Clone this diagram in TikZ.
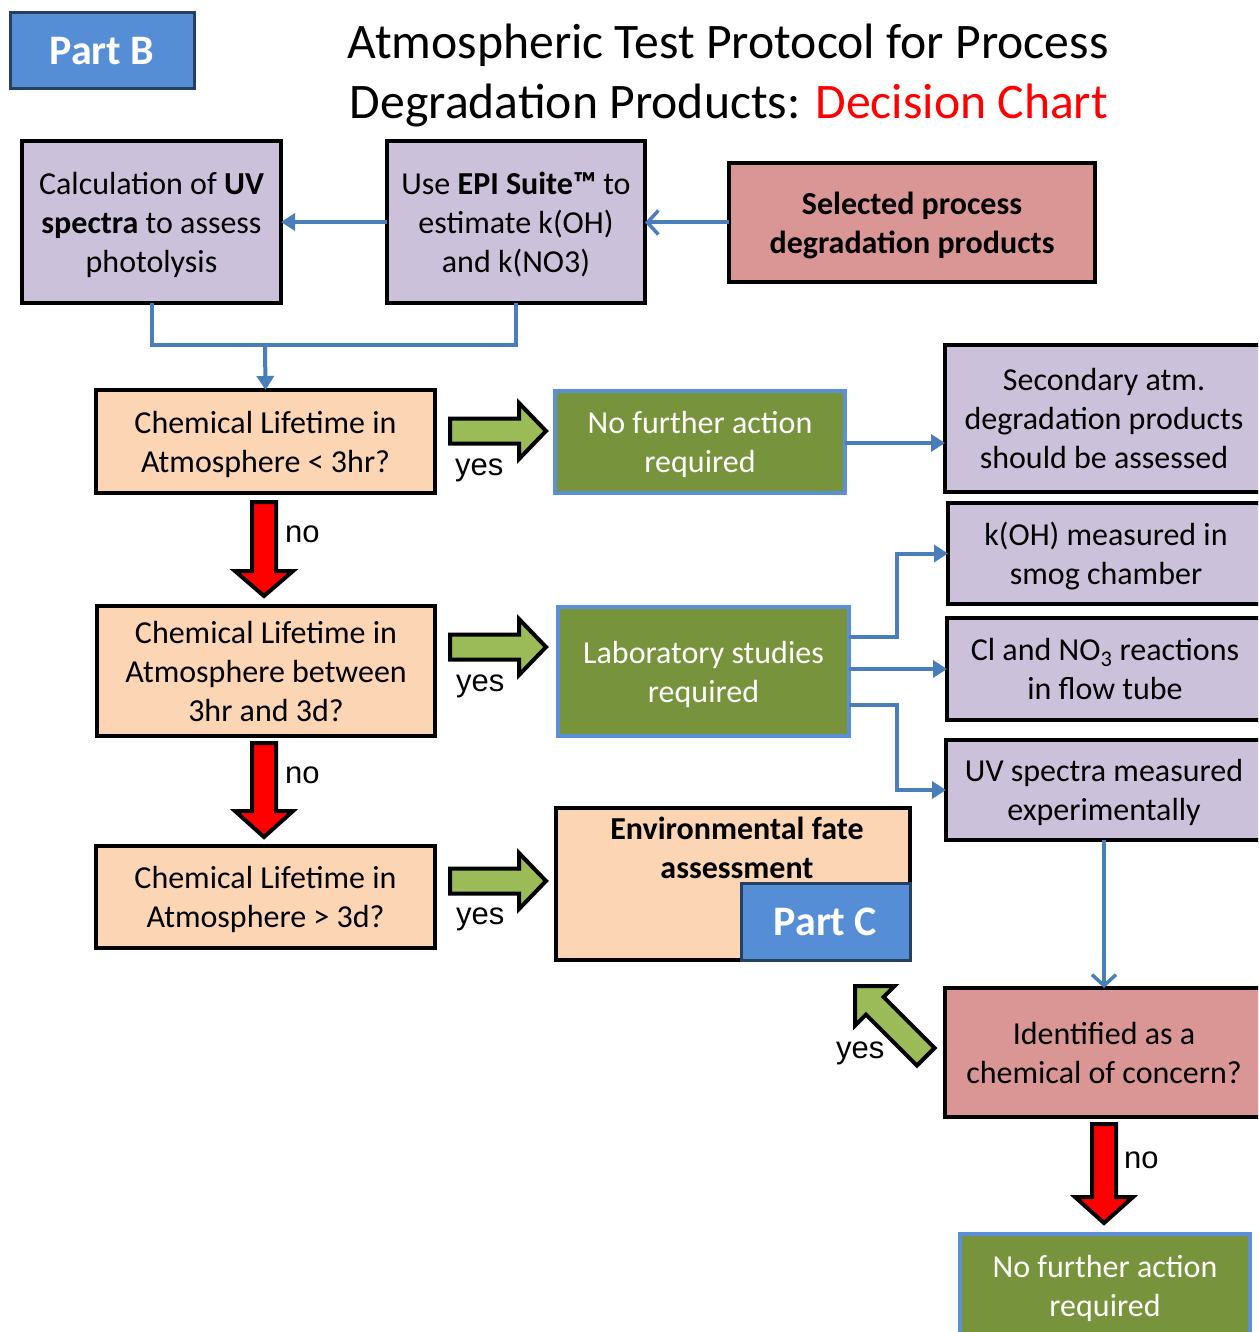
\documentclass[tikz,border=0pt]{standalone}
\usepackage{fontspec}
\setmainfont{Carlito}
\newfontfamily\arialf{Liberation Sans}
\usetikzlibrary{arrows.meta,calc}
\definecolor{lav}{HTML}{CCC1DA}
\definecolor{peach}{HTML}{FCD5B5}
\definecolor{pinkred}{HTML}{D99694}
\definecolor{olive}{HTML}{77933C}
\definecolor{lgreen}{HTML}{9BBB59}
\definecolor{partblue}{HTML}{558ED5}
\definecolor{navy}{HTML}{254061}
\definecolor{lineblue}{HTML}{4A7EBB}
\definecolor{boxblue}{HTML}{5B8FD6}
\newcommand\downblock[4]{%
  \draw[redblk] (#1-12,#2) -- (#1+12,#2) -- (#1+12,#3) -- (#1+29,#3) -- (#1,#4) -- (#1-29,#3) -- (#1-12,#3) -- cycle;}
\newcommand\rightblock[1]{%
  \draw[greenblk] (450,#1-12.5) -- (519,#1-12.5) -- (519,#1-28) -- (546,#1) -- (519,#1+28) -- (519,#1+12.5) -- (450,#1+12.5) -- cycle;}
\begin{document}
\begin{tikzpicture}[x=1pt,y=-1pt,
  txt/.style={font=\fontsize{32}{39}\selectfont, align=center, inner sep=0pt, outer sep=0pt},
  box/.style={txt, draw=black, line width=3.5pt, rectangle, text depth=0pt},
  lavbox/.style={box, fill=lav},
  peachbox/.style={box, fill=peach},
  pinkbox/.style={box, fill=pinkred},
  greenbox/.style={txt, draw=boxblue, line width=3.5pt, fill=olive, text=white, text depth=0pt},
  partbox/.style={draw=navy, line width=3pt, fill=partblue, text=white, inner sep=0pt, outer sep=0pt, font=\fontsize{42}{48}\selectfont\bfseries},
  conn/.style={draw=lineblue, line width=4pt},
  tri/.style={-{Triangle[length=14pt,width=17pt]}},
  chev/.style={-{Straight Barb[length=11pt,width=24pt,line width=3.5pt]}},
  redblk/.style={fill=red, draw=black, line width=4pt, line join=miter},
  greenblk/.style={fill=lgreen, draw=black, line width=4pt, line join=miter},
  lbl/.style={font=\arialf\fontsize{31}{36}\selectfont, inner sep=0pt, anchor=base west},
  ttl/.style={font=\fontsize{49.7}{60}\selectfont, inner sep=0pt, anchor=base}
]
\useasboundingbox (0,0) rectangle (1258,1332);
\clip (0,0) rectangle (1258,1332);
\fill[white] (0,0) rectangle (1258,1332);

% title
\node[partbox, minimum width=184pt, minimum height=76pt] (partb) at (102,51) {Part B};
\node[ttl] (title1) at (728,59) {Atmospheric Test Protocol for Process};
\node[ttl] (title2) at (729,119) {Degradation Products: \textcolor{red}{Decision Chart}};

% top row
\node[lavbox, minimum width=259pt, minimum height=162pt] (calc) at (151.5,222) {Calculation of \textbf{UV}\\\textbf{spectra} to assess\\photolysis};
\node[lavbox, minimum width=258pt, minimum height=162pt] (epi) at (516,222) {Use \textbf{EPI Suite™} to\\estimate k(OH)\\and k(NO3)};
\node[pinkbox, minimum width=366pt, minimum height=119pt] (sel) at (912,222.5) {\textbf{Selected process}\\\textbf{degradation products}};

\draw[conn, chev] (sel.west) -- (epi.east |- sel.west);
\draw[conn, tri] (epi.west) -- (calc.east);
\coordinate (j) at (265,345);
\draw[conn] (calc.south) -- (calc.south |- j) -- (epi.south |- j) -- (epi.south);

% left column
\node[peachbox, minimum width=339pt, minimum height=103pt] (q1) at (265.5,441.5) {Chemical Lifetime in\\Atmosphere < 3hr?};
\node[peachbox, minimum width=338pt, minimum height=130pt] (q2) at (266,671) {Chemical Lifetime in\\Atmosphere between\\3hr and 3d?};
\node[peachbox, minimum width=339pt, minimum height=102pt] (q3) at (265.5,897) {Chemical Lifetime in\\Atmosphere > 3d?};
\draw[conn, tri] (j) -- (q1.north);

\downblock{264}{502}{571}{596}
\downblock{264}{743}{811}{837}
\node[lbl] (no1) at (285,542) {no};
\node[lbl] (no2) at (285,783) {no};

\rightblock{431}
\rightblock{647}
\rightblock{881}
\node[lbl] (yes1) at (455,475) {yes};
\node[lbl] (yes2) at (456,691) {yes};
\node[lbl] (yes3) at (456,924) {yes};

% middle column
\node[greenbox, minimum width=290pt, minimum height=102pt] (nf1) at (700,442) {No further action\\required};
\node[greenbox, minimum width=291pt, minimum height=129pt] (lab) at (703.5,671.5) {Laboratory studies\\required};
\node[peachbox, minimum width=354pt, minimum height=152pt] (env) at (733,884) {};
\node[txt, font=\fontsize{32}{39}\selectfont\bfseries] (envtxt) at (737,848) {Environmental fate\\assessment};
\node[partbox, minimum width=169pt, minimum height=77pt] (partc) at (825.5,921.5) {Part C};

% right column
\node[lavbox, minimum width=318pt, minimum height=147pt] (sec) at (1104,418.5) {Secondary atm.\\degradation products\\should be assessed};
\node[lavbox, minimum width=316pt, minimum height=101pt] (koh) at (1106,553.5) {k(OH) measured in\\smog chamber};
\node[lavbox, minimum width=316pt, minimum height=102pt] (cl) at (1105,669) {Cl and NO\textsubscript{3} reactions\\in flow tube};
\node[lavbox, minimum width=316pt, minimum height=100pt] (uv) at (1104,790) {UV spectra measured\\experimentally};
\node[pinkbox, minimum width=318pt, minimum height=129pt] (ident) at (1104,1052.5) {Identified as a\\chemical of concern?};
\node[greenbox, minimum width=290pt, minimum height=103pt] (nf2) at (1105,1285.5) {No further action\\required};

\draw[conn, tri] (nf1.east |- 0,443) -- (sec.west |- 0,443);
\draw[conn, tri] (lab.east |- 0,637) -- (897,637) |- (koh.west);
\draw[conn, tri] (lab.east |- 0,669) -- (cl.west);
\draw[conn, tri] (lab.east |- 0,705) -- (897,705) |- (uv.west);
\draw[conn, chev] (uv.south) -- (ident.north);

% diagonal yes arrow
\draw[greenblk] (855,986) -- (894.6,986) -- (883.6,997) -- (934.5,1047.9) -- (916.9,1065.5) -- (866,1014.6) -- (855,1025.6) -- cycle;
\node[lbl] (yes4) at (836,1058) {yes};

\downblock{1104}{1124}{1197}{1223}
\node[lbl] (no3) at (1124,1168) {no};
\end{tikzpicture}
\end{document}
